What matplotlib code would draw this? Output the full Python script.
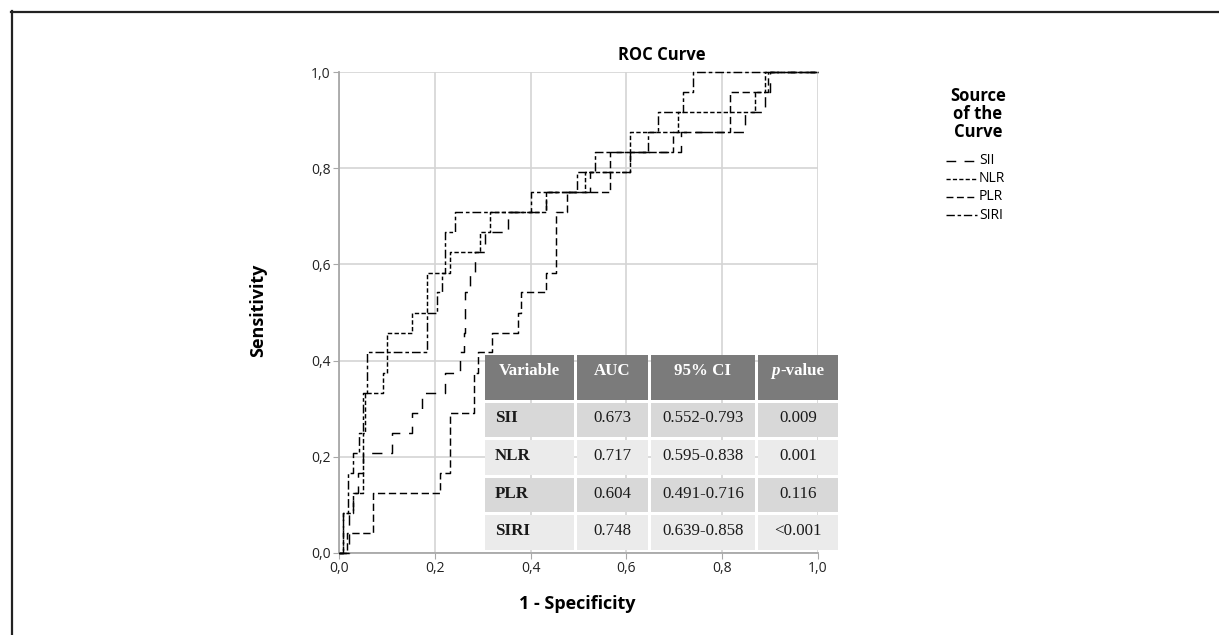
import matplotlib
matplotlib.use('Agg')
import matplotlib.pyplot as plt
from matplotlib.lines import Line2D
from matplotlib.patches import Rectangle

plt.rcParams['font.family'] = ['Open Sans', 'DejaVu Sans']

# ---------------- data ----------------
series_names = ['SII', 'NLR', 'PLR', 'SIRI']

sii_fpr = [0, 0.02, 0.03, 0.04, 0.05, 0.11, 0.152, 0.173, 0.222, 0.253, 0.26, 0.263, 0.273,
           0.284, 0.305, 0.353, 0.433, 0.524, 0.607, 0.715, 0.848, 0.889, 0.90, 1.0]
sii_tpr = [0, 0.083, 0.125, 0.167, 0.208, 0.25, 0.292, 0.333, 0.375, 0.417, 0.458, 0.542, 0.583,
           0.625, 0.667, 0.708, 0.75, 0.792, 0.833, 0.875, 0.917, 0.958, 1.0, 1.0]

nlr_fpr = [0, 0.009, 0.03, 0.05, 0.054, 0.092, 0.10, 0.152, 0.183, 0.232, 0.295, 0.315, 0.433,
           0.513, 0.607, 0.708, 0.868, 0.889, 1.0]
nlr_tpr = [0, 0.083, 0.125, 0.25, 0.333, 0.375, 0.458, 0.5, 0.583, 0.625, 0.667, 0.708, 0.75,
           0.792, 0.875, 0.917, 0.958, 1.0, 1.0]

plr_fpr = [0, 0.017, 0.07, 0.211, 0.232, 0.282, 0.291, 0.32, 0.373, 0.381, 0.433, 0.454, 0.475,
           0.566, 0.698, 0.816, 0.896, 1.0]
plr_tpr = [0, 0.042, 0.125, 0.167, 0.292, 0.375, 0.417, 0.458, 0.5, 0.542, 0.583, 0.708, 0.75,
           0.833, 0.875, 0.958, 1.0, 1.0]

siri_fpr = [0, 0.009, 0.019, 0.03, 0.042, 0.05, 0.059, 0.183, 0.204, 0.214, 0.221, 0.242, 0.40,
            0.496, 0.534, 0.646, 0.667, 0.719, 0.74, 1.0]
siri_tpr = [0, 0.083, 0.167, 0.208, 0.25, 0.333, 0.417, 0.5, 0.542, 0.583, 0.667, 0.708, 0.75,
            0.792, 0.833, 0.875, 0.917, 0.958, 1.0, 1.0]

x_ticks = [0.0, 0.2, 0.4, 0.6, 0.8, 1.0]
y_ticks = [0.0, 0.2, 0.4, 0.6, 0.8, 1.0]
tick_labels = ['0,0', '0,2', '0,4', '0,6', '0,8', '1,0']

table_cols = ['Variable', 'AUC', '95% CI', 'p-value']
table_vars = ['SII', 'NLR', 'PLR', 'SIRI']
table_auc = ['0.673', '0.717', '0.604', '0.748']
table_ci = ['0.552-0.793', '0.595-0.838', '0.491-0.716', '0.639-0.858']
table_p = ['0.009', '0.001', '0.116', '<0.001']

# ---------------- styles ----------------
styles = {
    'SII': (0, (7, 6)),
    'NLR': (0, (3, 1.6)),
    'PLR': (0, (5, 2.5)),
    'SIRI': (0, (6, 2, 2.5, 2)),
}
curves = {
    'SII': (sii_fpr, sii_tpr),
    'NLR': (nlr_fpr, nlr_tpr),
    'PLR': (plr_fpr, plr_tpr),
    'SIRI': (siri_fpr, siri_tpr),
}

W, H = 1219, 635
fig = plt.figure(figsize=(W / 100, H / 100), dpi=100)

def fx(px):
    return px / W

def fy(py):
    return 1 - py / H

# frame
fig.add_artist(Line2D([fx(11), 1.0], [fy(11.5), fy(11.5)], transform=fig.transFigure,
                      color='#222222', lw=1.6))
fig.add_artist(Line2D([fx(11.5), fx(11.5)], [fy(11), 0.0], transform=fig.transFigure,
                      color='#222222', lw=1.6))

ax = fig.add_axes([fx(339), fy(553), 479 / W, 481 / H])
ax.set_xlim(0, 1)
ax.set_ylim(0, 1)
ax.set_xticks(x_ticks)
ax.set_yticks(y_ticks)
ax.set_xticklabels(tick_labels)
ax.set_yticklabels(tick_labels)
ax.grid(True, color='#d4d4d4', lw=1.2, zorder=0)
ax.set_axisbelow(True)
for s in ['top', 'right']:
    ax.spines[s].set_visible(False)
for s in ['left', 'bottom']:
    ax.spines[s].set_color('#a8a8a8')
    ax.spines[s].set_linewidth(1.3)
ax.tick_params(direction='out', length=4, color='#a8a8a8', labelsize=10,
               labelcolor='#222222', pad=2)

for name in series_names:
    xs, ys = curves[name]
    ax.plot(xs, ys, drawstyle='steps-post', color='black', lw=1.05,
            linestyle=styles[name], clip_on=False, zorder=3)

# titles / labels
fig.text(fx(662), fy(55), 'ROC Curve', ha='center', va='center', fontsize=12, fontweight='bold')
fig.text(fx(258), fy(310), 'Sensitivity', ha='center', va='center', rotation=90,
         fontsize=13, fontweight='bold')
fig.text(fx(577), fy(604), '1 - Specificity', ha='center', va='center',
         fontsize=13, fontweight='bold')

# legend
for txt, yy in zip(['Source', 'of the', 'Curve'], [96, 114, 132]):
    fig.text(fx(978), fy(yy), txt, ha='center', va='center', fontsize=12, fontweight='bold')
for name, yy in zip(series_names, [161, 179, 197, 215]):
    fig.add_artist(Line2D([fx(946), fx(977)], [fy(yy), fy(yy)], transform=fig.transFigure,
                          color='black', lw=1.0, linestyle=styles[name]))
    fig.text(fx(979), fy(yy), name, ha='left', va='center', fontsize=10)

# table
tax = fig.add_axes([fx(485), fy(551), (838 - 485) / W, (551 - 355) / H])
tax.set_xlim(485, 838)
tax.set_ylim(551, 355)
tax.axis('off')
col_bounds = [(485, 574), (577, 648), (651, 755), (758, 838)]
row_bounds = [(403, 437), (440, 475), (478, 512), (515, 550)]
row_colors = ['#d8d8d8', '#ebebeb', '#d8d8d8', '#ebebeb']
serif = ['Liberation Serif', 'DejaVu Serif']
fs = 12.2

for (c0, c1) in col_bounds:
    tax.add_patch(Rectangle((c0, 355), c1 - c0, 45, color='#7b7b7b', lw=0))
for ci, head in enumerate(table_cols[:3]):
    c0, c1 = col_bounds[ci]
    tax.text((c0 + c1) / 2, 371, head, ha='center', va='center', color='white',
             fontsize=fs, fontweight='bold', family=serif)
# p-value header with italic p
tax.text(780, 371, 'p', ha='right', va='center', color='white', fontsize=fs,
         fontweight='bold', fontstyle='italic', family=serif)
tax.text(780, 371, '-value', ha='left', va='center', color='white', fontsize=fs,
         fontweight='bold', family=serif)

columns = [table_vars, table_auc, table_ci, table_p]
for ri, (r0, r1) in enumerate(row_bounds):
    for ci, (c0, c1) in enumerate(col_bounds):
        tax.add_patch(Rectangle((c0, r0), c1 - c0, r1 - r0, color=row_colors[ri], lw=0))
        val = columns[ci][ri]
        yc = (r0 + r1) / 2 - 1.5
        if ci == 0:
            tax.text(c0 + 10, yc, val, ha='left', va='center', color='#1a1a1a',
                     fontsize=fs, fontweight='bold', family=serif)
        else:
            tax.text((c0 + c1) / 2, yc, val, ha='center', va='center', color='#1a1a1a',
                     fontsize=fs, family=serif)

fig.savefig('out.png', dpi=100)
